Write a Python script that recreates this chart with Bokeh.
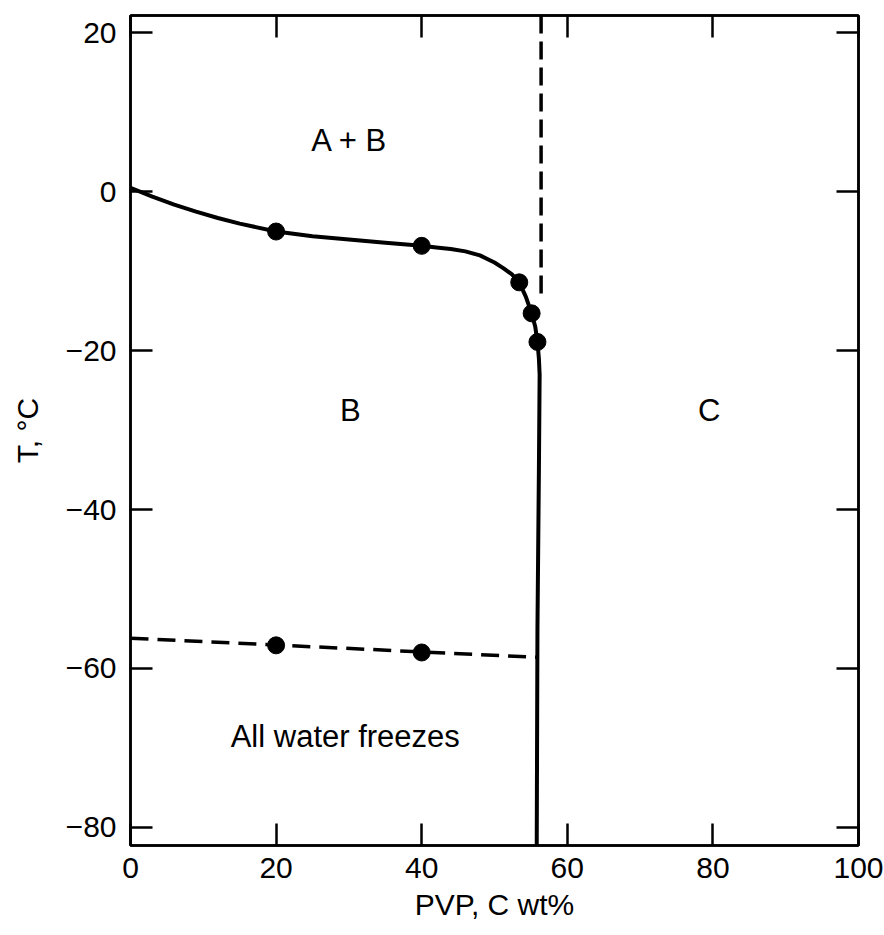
from bokeh.plotting import figure
from bokeh.models import Range1d, LinearAxis, FixedTicker
from bokeh.core.properties import value
from bokeh.embed import file_html
from bokeh.resources import INLINE

# ---- data ----
x_ticks = [0, 20, 40, 60, 80, 100]
x_tick_labels = ["0", "20", "40", "60", "80", "100"]
y_ticks = [20, 0, -20, -40, -60, -80]
y_tick_labels = ["20", "0", "\u221220", "\u221240", "\u221260", "\u221280"]
x_title = "PVP, C wt%"
y_title = "T, \u00b0C"

# freezing curve (solid)
curve_c = [0, 3, 6, 9, 12, 15, 20, 25, 30, 35, 40, 42, 44, 46, 48, 50, 51.2,
           52.4, 53.4, 54.3, 55.1, 55.6, 55.9, 56.1, 56.2, 56.1, 55.9, 55.8]
curve_t = [0.5, -0.6, -1.6, -2.5, -3.3, -4.0, -5.0, -5.6, -6.0, -6.4, -6.8, -7.0,
           -7.2, -7.5, -8.0, -8.9, -9.6, -10.4, -11.4, -13.2, -15.3, -17.0,
           -18.9, -21.0, -23.0, -35.0, -55.0, -82.3]

# measured points on the curve
pts_c = [20, 40, 53.4, 55.1, 55.9]
pts_t = [-5.0, -6.8, -11.4, -15.3, -18.9]

# "all water freezes" dashed line and its points
freeze_c = [0, 55.7]
freeze_t = [-56.2, -58.6]
freeze_pts_c = [20, 40]
freeze_pts_t = [-57.1, -58.0]

# dashed vertical boundary above the curve
bound_c = [56.4, 56.4]
bound_t = [22.2, -13.4]

region_labels = ["A + B", "B", "C", "All water freezes"]
region_c = [30.1, 30.2, 79.5, 29.5]
region_t = [6.5, -27.5, -27.5, -68.6]

FONT = "Liberation Sans"

p = figure(width=884, height=935,
           x_range=Range1d(0, 100), y_range=Range1d(-82.3, 22.2),
           output_backend="svg", toolbar_location=None,
           min_border_left=130, min_border_right=26,
           min_border_top=15, min_border_bottom=90)
p.grid.visible = False
p.outline_line_color = "black"
p.outline_line_width = 2.5
p.background_fill_color = "white"
p.border_fill_color = "white"


def style_axis(ax, labels):
    ax.major_tick_in = 22
    ax.major_tick_out = 0
    ax.minor_tick_in = 0
    ax.minor_tick_out = 0
    ax.major_tick_line_width = 2.5
    ax.major_tick_line_color = "black"
    ax.axis_line_width = 2.5
    ax.axis_line_color = "black"
    ax.major_label_text_font = FONT
    ax.major_label_text_color = "black"
    ax.axis_label_text_font = FONT
    ax.axis_label_text_font_size = "30px"
    ax.axis_label_text_font_style = "normal"
    ax.axis_label_text_color = "black"
    if labels:
        ax.major_label_text_font_size = "30px"
    else:
        ax.major_label_text_font_size = "0px"
        ax.major_label_standoff = 0


p.xaxis.ticker = FixedTicker(ticks=x_ticks)
p.xaxis.major_label_overrides = dict(zip(x_ticks, x_tick_labels))
p.yaxis.ticker = FixedTicker(ticks=y_ticks)
p.yaxis.major_label_overrides = dict(zip(y_ticks, y_tick_labels))
for ax in p.xaxis:
    style_axis(ax, True)
    ax.major_label_standoff = 12
    ax.axis_label = x_title
    ax.axis_label_standoff = 7
for ax in p.yaxis:
    style_axis(ax, True)
    ax.major_label_standoff = 14
    ax.axis_label = y_title
    ax.axis_label_standoff = 19

top = LinearAxis(ticker=FixedTicker(ticks=x_ticks))
style_axis(top, False)
p.add_layout(top, "above")
right = LinearAxis(ticker=FixedTicker(ticks=y_ticks))
style_axis(right, False)
p.add_layout(right, "right")

# curves
p.line(curve_c, curve_t, line_color="black", line_width=4, line_join="round")
p.line(freeze_c, freeze_t, line_color="black", line_width=3.5, line_dash="18 9")
p.line(bound_c, bound_t, line_color="black", line_width=3.5, line_dash="18 8")
p.scatter(pts_c, pts_t, size=17, fill_color="black", line_color="black")
p.scatter(freeze_pts_c, freeze_pts_t, size=17, fill_color="black", line_color="black")

p.text(x=region_c, y=region_t, text=region_labels, text_font=value(FONT),
       text_font_size="31px", text_align="center", text_baseline="middle",
       text_color="black")

open("out.html", "w").write(file_html(p, INLINE))
